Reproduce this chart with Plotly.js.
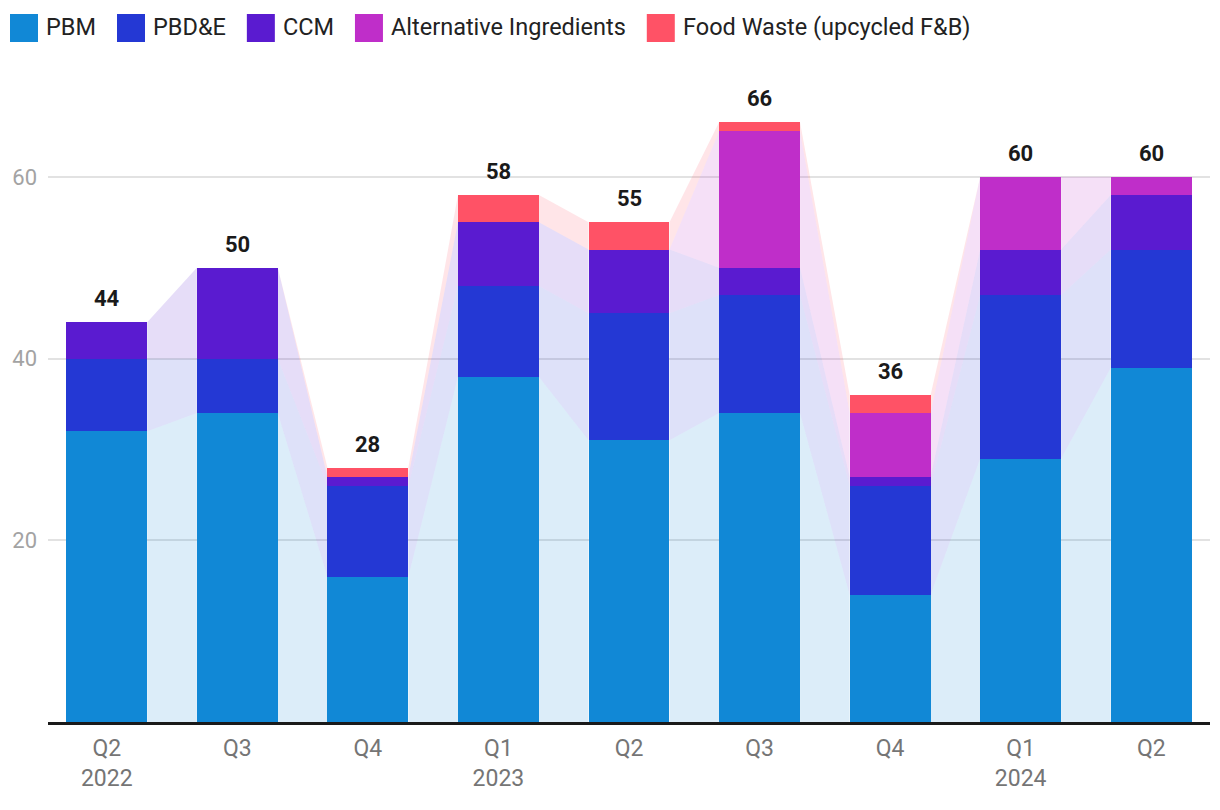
<!DOCTYPE html>
<html>
<head>
<meta charset="utf-8">
<script src="https://cdn.plot.ly/plotly-3.0.1.min.js"></script>
<style>html,body{margin:0;padding:0;background:#fff;}#chart{width:1220px;height:810px;}</style>
</head>
<body>
<div id="chart"></div>
<script>
// ---- data ----
const categories = ['Q2<br>2022', 'Q3', 'Q4', 'Q1<br>2023', 'Q2', 'Q3', 'Q4', 'Q1<br>2024', 'Q2'];
const seriesNames = ['PBM', 'PBD&E', 'CCM', 'Alternative Ingredients', 'Food Waste (upcycled F&B)'];
const pbm  = [32, 34, 16, 38, 31, 34, 14, 29, 39];
const pbde = [ 8,  6, 10, 10, 14, 13, 12, 18, 13];
const ccm  = [ 4, 10,  1,  7,  7,  3,  1,  5,  6];
const alt  = [ 0,  0,  0,  0,  0, 15,  7,  8,  2];
const fw   = [ 0,  0,  1,  3,  3,  1,  2,  0,  0];
const yTicks = [20, 40, 60];

// ---- styles ----
const colors = ['#1188d6', '#2438d4', '#5a1bd0', '#bf2ec9', '#ff5266'];
const fillAlpha = 0.15;
const barWidth = 0.62;
const FONT = 'Roboto, "Open Sans", sans-serif';
const W = 1220, H = 810;
const M = {l: 48, r: 10, t: 86, b: 88};

function rgba(hex, a) {
  const n = parseInt(hex.slice(1), 16);
  return `rgba(${(n >> 16) & 255},${(n >> 8) & 255},${n & 255},${a})`;
}

const allSeries = [pbm, pbde, ccm, alt, fw];
const xs = categories.map((_, i) => i);
const totals = xs.map(i => allSeries.reduce((s, arr) => s + arr[i], 0));

const traces = [];
// connecting areas between bars
const cumBelow = xs.map(() => 0);
allSeries.forEach((vals, s) => {
  const lower = cumBelow.slice();
  const upper = lower.map((v, i) => v + vals[i]);
  const px = [], py = [];
  for (let i = 0; i < xs.length - 1; i++) {
    const xa = xs[i] + barWidth / 2, xb = xs[i + 1] - barWidth / 2;
    px.push(xa, xb, xb, xa, xa, null);
    py.push(lower[i], lower[i + 1], upper[i + 1], upper[i], lower[i], null);
  }
  traces.push({
    type: 'scatter', mode: 'lines', x: px, y: py, fill: 'toself',
    fillcolor: rgba(colors[s], fillAlpha), line: {width: 0, color: 'rgba(0,0,0,0)'},
    hoverinfo: 'skip', showlegend: false, connectgaps: false
  });
  for (let i = 0; i < xs.length; i++) cumBelow[i] = upper[i];
});

// stacked bars
allSeries.forEach((vals, s) => {
  traces.push({
    type: 'bar', x: xs, y: vals, name: seriesNames[s], width: barWidth,
    marker: {color: colors[s], line: {width: 0}}, showlegend: false,
    hovertemplate: seriesNames[s] + ': %{y}<extra></extra>'
  });
});

// total labels
const annotations = xs.map(i => ({
  x: i, y: totals[i], xref: 'x', yref: 'y', text: String(totals[i]),
  showarrow: false, yanchor: 'bottom', yshift: 9,
  font: {family: FONT, size: 22, color: '#1a1a1a', weight: 'bold'}
}));

// legend (swatches + labels laid out left to right)
const shapes = [];
const plotW = W - M.l - M.r, plotH = H - M.t - M.b;
const pxX = p => (p - M.l) / plotW;
const pxY = p => (H - M.b - p) / plotH;
const LEG_FONT = 23.5, SW = 28, SW_TOP = 14, TEXT_GAP = 7, ITEM_GAP = 22;
const ctx = document.createElement('canvas').getContext('2d');
ctx.font = `${LEG_FONT}px ${FONT}`;
let lx = 10;
seriesNames.forEach((name, s) => {
  shapes.push({
    type: 'rect', xref: 'paper', yref: 'paper',
    x0: pxX(lx), x1: pxX(lx + SW), y0: pxY(SW_TOP + SW), y1: pxY(SW_TOP),
    fillcolor: colors[s], line: {width: 0}, layer: 'above'
  });
  annotations.push({
    xref: 'paper', yref: 'paper', x: pxX(lx + SW + TEXT_GAP - 1), y: pxY(SW_TOP + SW / 2 - 1),
    xanchor: 'left', yanchor: 'middle', text: name, showarrow: false,
    font: {family: FONT, size: LEG_FONT, color: '#222222'}
  });
  lx += SW + TEXT_GAP + ctx.measureText(name).width + ITEM_GAP;
});

const layout = {
  width: W, height: H,
  margin: M,
  paper_bgcolor: '#ffffff', plot_bgcolor: '#ffffff',
  font: {family: FONT, size: 22, color: '#222'},
  barmode: 'stack',
  showlegend: false,
  xaxis: {
    range: [-0.45, 8.45], tickmode: 'array', tickvals: xs, ticktext: categories,
    tickfont: {family: FONT, size: 23, color: '#757575'},
    showline: true, linecolor: '#1a1a1a', linewidth: 2.5, showgrid: false,
    zeroline: false, ticks: '', ticklabelstandoff: 4, fixedrange: true
  },
  yaxis: {
    range: [0, 70], tickmode: 'array', tickvals: yTicks, ticktext: yTicks.map(String),
    tickfont: {family: FONT, size: 22, color: '#a3a3a3'},
    showgrid: true, gridcolor: '#e2e2e2', gridwidth: 1.5, zeroline: false,
    showline: false, ticks: '', ticklabelstandoff: 10, fixedrange: true
  },
  shapes: shapes,
  annotations: annotations
};

Plotly.newPlot('chart', traces, layout, {displayModeBar: false, responsive: false});
</script>
</body>
</html>
